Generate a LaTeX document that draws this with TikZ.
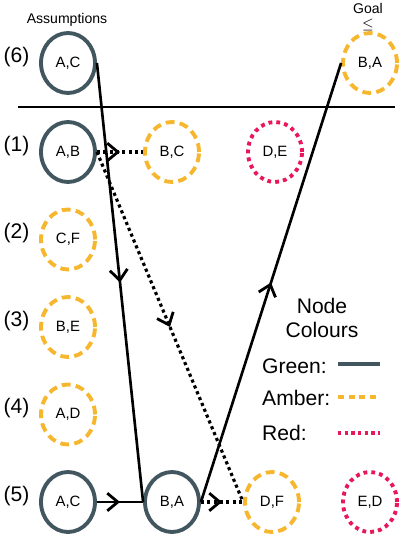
\documentclass[tikz,border=0pt]{standalone}
\usepackage{fontspec}
\setmainfont{Liberation Sans}
\usetikzlibrary{
    shapes.geometric, arrows.meta, positioning,
    decorations.markings
}
\definecolor{nodeGreen}{HTML}{42565F}
\definecolor{nodeAmber}{HTML}{F6B62E}
\definecolor{nodeRed}{HTML}{E8175A}

\begin{document}
\begin{tikzpicture}[x=0.02cm, y=-0.02cm,
    cell/.style={ellipse, minimum width=1.08cm, minimum height=1.2cm, inner sep=0pt, line width=2.2pt, font=\fontsize{8.5}{10}\selectfont},
    green/.style={cell, draw=nodeGreen},
    amber/.style={cell, draw=nodeAmber, dash pattern=on 5pt off 3pt},
    red/.style={cell, draw=nodeRed, dash pattern=on 2.2pt off 2.3pt},
    rowlabel/.style={anchor=east, font=\fontsize{12}{14}\selectfont, yshift=3.5pt, xshift=-2pt},
    link/.style={line width=1.5pt, postaction={decorate},
        decoration={markings, mark=at position 0.5 with {\arrow[line width=1.6pt]{Straight Barb[length=6pt, width=10pt]}}}},
    dotlink/.style={link, line width=1.8pt, dash pattern=on 1.8pt off 1.8pt}
]
        \useasboundingbox (0,0) rectangle (399,537);

        % Headings
        \node[font=\fontsize{8}{9}\selectfont] (assume) at (67,20) {Assumptions};
        \node[font=\fontsize{8}{9}\selectfont] (goalword) at (368,8) {Goal};
        \node[font=\fontsize{8}{9}\selectfont] (leq) at (368,25) {$\leq$};

        % Assumption row and goal
        \node[green] (ac6) at (68,63) {A,C};
        \node[rowlabel] at (ac6.west) {(6)};
        \node[amber] (goal) at (370,63) {B,A};

        % Separator
        \draw[line width=1.7pt] (18,107) -- (395,107);

        % Rows 1 to 5
        \node[green] (ab1) at (68,152) {A,B};
        \node[rowlabel] at (ab1.west) {(1)};
        \node[amber] (bc1) at (172,152) {B,C};
        \node[red] (de1) at (275,152) {D,E};

        \node[amber] (cf2) at (68,239.5) {C,F};
        \node[rowlabel] at (cf2.west) {(2)};

        \node[amber] (be3) at (68,327) {B,E};
        \node[rowlabel] at (be3.west) {(3)};

        \node[amber] (ad4) at (68,414.5) {A,D};
        \node[rowlabel] at (ad4.west) {(4)};

        \node[green] (ac5) at (68,502) {A,C};
        \node[rowlabel] at (ac5.west) {(5)};
        \node[green] (ba5) at (172,502) {B,A};
        \node[amber] (df5) at (272,502) {D,F};
        \node[red] (ed5) at (370,502) {E,D};

        % Solid links
        \draw[link] (ac6.east) -- (ba5.west);
        \draw[link] (ac5.east) -- (ba5.west);
        \draw[link] (ba5.east) -- (goal.west);

        % Dotted links
        \draw[dotlink] (ab1.east) -- (bc1.west);
        \draw[dotlink] (ab1.east) -- (df5.west);
        \draw[dotlink] (ba5.east) -- (df5.west);

        % Legend
        \node[font=\fontsize{12}{14}\selectfont, align=center] (legtitle) at (322,318) {Node\\Colours};
        \node[font=\fontsize{12}{14}\selectfont, anchor=west] (leggreen) at (256,366) {Green:};
        \node[font=\fontsize{12}{14}\selectfont, anchor=west] (legamber) at (256,398) {Amber:};
        \node[font=\fontsize{12}{14}\selectfont, anchor=west] (legred) at (256,433) {Red:};
        \draw[nodeGreen, line width=1.8pt] (338,364) -- (380,364);
        \draw[nodeAmber, line width=1.8pt, dash pattern=on 3.5pt off 2.5pt] (338,397) -- (380,397);
        \draw[nodeRed, line width=1.8pt, dash pattern=on 1.8pt off 2pt] (338,433) -- (380,433);
    \end{tikzpicture}
\end{document}
